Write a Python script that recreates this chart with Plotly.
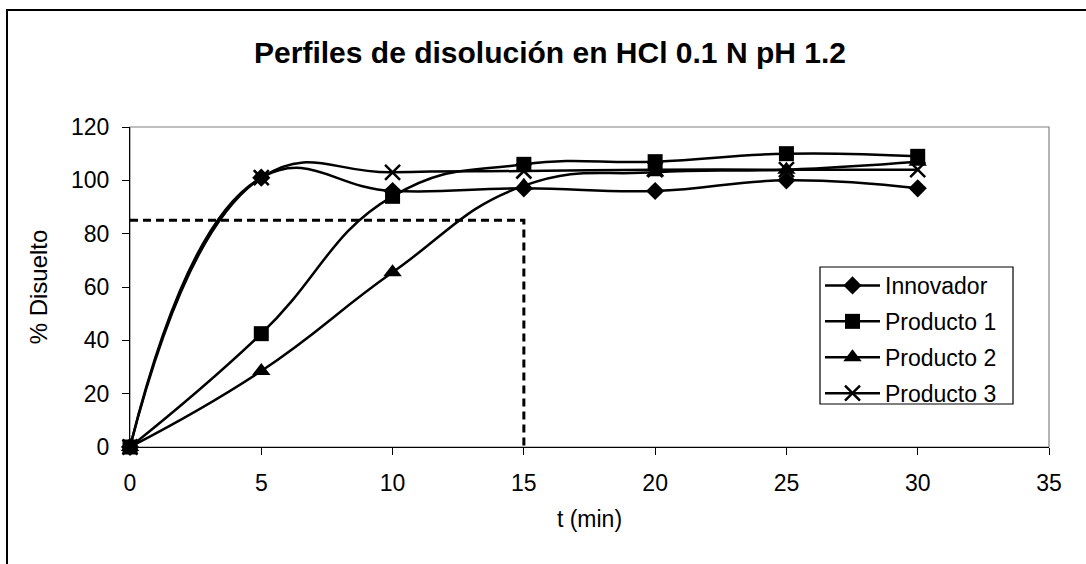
import plotly.graph_objects as go

# Dissolution time points (min) and % dissolved for each product
t_min = [0, 5, 10, 15, 20, 25, 30]
innovador = [0, 101, 96, 97, 96, 100, 97]
producto_1 = [0, 42.5, 94, 106, 107, 110, 109]
producto_2 = [0, 28.5, 65.5, 98, 103, 104, 107]
producto_3 = [0, 101, 103, 103.5, 104, 104, 104]

# 85 % dissolved at 15 min criterion
ref_t = [0, 15, 15]
ref_pct = [85, 85, 0]

series_names = ["Innovador", "Producto 1", "Producto 2", "Producto 3"]
series_values = [innovador, producto_1, producto_2, producto_3]
series_symbols = ["diamond", "square", "triangle-up", "x-thin"]
series_sizes = [14, 15, 16, 15]

FONT = "Arial, Liberation Sans, sans-serif"

fig = go.Figure()

fig.add_trace(go.Scatter(
    x=ref_t, y=ref_pct, mode="lines", showlegend=False, hoverinfo="skip",
    line=dict(color="black", width=3, dash="8px,5px"),
    cliponaxis=False,
))

for name, vals, sym, size in zip(series_names, series_values, series_symbols, series_sizes):
    fig.add_trace(go.Scatter(
        x=t_min, y=vals, name=name, legendgroup=name, mode="lines+markers",
        line=dict(color="black", width=2.5, shape="spline", smoothing=1.3),
        marker=dict(symbol=sym, size=size, color="black",
                    line=dict(color="black", width=2.5 if sym == "x-thin" else 0)),
        cliponaxis=False,
    ))

L, R, T, B = 130, 37, 127, 117
W, H = 1086, 564
pw, ph = W - L - R, H - T - B

def px_x(p):
    return (p - L) / pw

def px_y(p):
    return (H - B - p) / ph

fig.update_layout(
    width=W, height=H,
    margin=dict(l=L, r=R, t=T, b=B),
    paper_bgcolor="white", plot_bgcolor="white",
    font=dict(family=FONT, size=23, color="black"),
    title=dict(text="<b>Perfiles de disolución en HCl 0.1 N pH 1.2</b>",
               x=550 / W, xref="container", xanchor="center",
               y=1 - 52 / H, yref="container", yanchor="middle",
               font=dict(family=FONT, size=30, color="black")),
    xaxis=dict(range=[0, 35], dtick=5, tick0=0, showgrid=False, zeroline=False,
               showline=True, linecolor="black", linewidth=1.2,
               ticks="outside", ticklen=7, tickcolor="black", tickwidth=1.2,
               ticklabelstandoff=8, tickfont=dict(size=23),
               title=dict(text="t (min)", standoff=16, font=dict(size=23))),
    yaxis=dict(range=[0, 120], dtick=20, tick0=0, showgrid=False, zeroline=False,
               showline=True, linecolor="black", linewidth=1.2,
               ticks="outside", ticklen=7, tickcolor="black", tickwidth=1.2,
               ticklabelstandoff=8, tickfont=dict(size=23),
               title=dict(text="% Disuelto", standoff=16, font=dict(size=24))),
    legend=dict(x=px_x(820), y=px_y(264), xanchor="left", yanchor="top",
                bgcolor="rgba(0,0,0,0)", borderwidth=0,
                traceorder="grouped", tracegroupgap=3, itemwidth=55,
                font=dict(family=FONT, size=23, color="black")),
    shapes=[
        # plot area border
        dict(type="rect", xref="paper", yref="paper", x0=0, y0=0, x1=1, y1=1,
             line=dict(color="#808080", width=1.2), layer="below"),
        # chart frame
        dict(type="rect", xref="paper", yref="paper",
             x0=px_x(7), y0=-2, x1=2, y1=px_y(10),
             line=dict(color="black", width=2), layer="below"),
        # legend box
        dict(type="rect", xref="paper", yref="paper",
             x0=px_x(820), y0=px_y(404), x1=px_x(1013), y1=px_y(267),
             fillcolor="white", line=dict(color="black", width=1.2), layer="above"),
    ],
)

fig.write_html("out.html")
